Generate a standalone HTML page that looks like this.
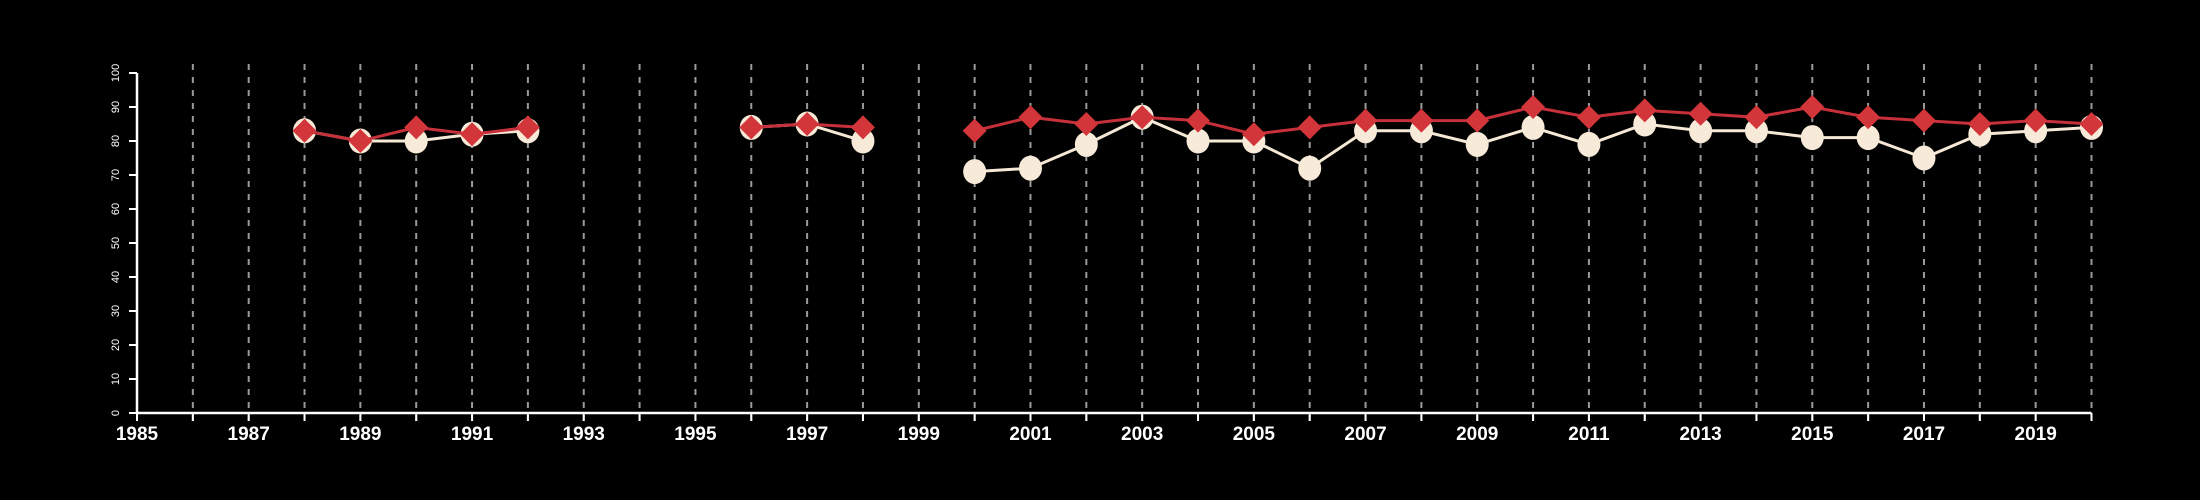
<!DOCTYPE html>
<html><head><meta charset="utf-8"><style>
html,body{margin:0;padding:0;background:#000;}
svg{display:block;font-family:"Liberation Sans",sans-serif;}
</style></head><body>
<svg id="chart" width="2200" height="500" viewBox="0 0 2200 500" xmlns="http://www.w3.org/2000/svg">
<rect width="2200" height="500" fill="#000"/>
<g id="grid"></g>
<g id="axes"></g>
<g id="series"></g>
</svg>
<script>
const years = [1988,1989,1990,1991,1992,1996,1997,1998,2000,2001,2002,2003,2004,2005,2006,2007,2008,2009,2010,2011,2012,2013,2014,2015,2016,2017,2018,2019,2020];
const seriesCircle = [83,80,80,82,83,84,85,80,71,72,79,87,80,80,72,83,83,79,84,79,85,83,83,81,81,75,82,83,84];
const seriesDiamond = [83,80,84,82,84,84,85,84,83,87,85,87,86,82,84,86,86,86,90,87,89,88,87,90,87,86,85,86,85];
const yTicks = [0,10,20,30,40,50,60,70,80,90,100];
const xLabels = [1985,1987,1989,1991,1993,1995,1997,1999,2001,2003,2005,2007,2009,2011,2013,2015,2017,2019];

const NS = "http://www.w3.org/2000/svg";
const X0 = 137, X1 = 2091.5, Y0 = 413, Y100 = 73;
function xs(v){ return X0 + (v - 1985) * (X1 - X0) / 35; }
function ys(v){ return Y0 - v * (Y0 - Y100) / 100; }
function mk(tag, attrs, parent){ const e = document.createElementNS(NS, tag); for (const k in attrs) e.setAttribute(k, attrs[k]); parent.appendChild(e); return e; }

const grid = document.getElementById('grid');
const axes = document.getElementById('axes');
const ser = document.getElementById('series');

for (let yr = 1986; yr <= 2020; yr++) {
  const g = mk('line', {x1: xs(yr), x2: xs(yr), y1: 64, y2: 422, stroke: '#9a9a9a', 'stroke-width': 2, 'stroke-dasharray': '6,7'}, grid);
  
  
}
// axes
const xa = mk('line', {x1: xs(1985), x2: xs(2020), y1: Y0, y2: Y0, stroke: '#fff', 'stroke-width': 2.5}, axes);


const ya = mk('line', {x1: X0, x2: X0, y1: ys(0), y2: ys(100), stroke: '#fff', 'stroke-width': 2.5}, axes);


for (let yr = 1985; yr <= 2020; yr++) {
  const t = mk('line', {x1: xs(yr), x2: xs(yr), y1: Y0, y2: Y0 + 8, stroke: '#fff', 'stroke-width': 2}, axes);
  
  
}
xLabels.forEach(v => {
  const t = mk('text', {x: xs(v), y: 440, fill: '#fff', 'font-size': 19, 'font-weight': 'bold', 'text-anchor': 'middle'}, axes);
  t.textContent = v;
  
  
});
yTicks.forEach(v => {
  const t = mk('line', {x1: X0 - 8, x2: X0, y1: ys(v), y2: ys(v), stroke: '#fff', 'stroke-width': 2}, axes);
  
  
  const l = mk('text', {x: 0, y: 0, fill: '#fff', 'font-size': 11, 'text-anchor': 'middle', transform: 'translate(119,' + ys(v) + ') rotate(-90)'}, axes);
  l.textContent = v;
  
  
});

function segments(vals){
  const segs = []; let cur = [];
  for (let i = 0; i < years.length; i++) {
    if (i > 0 && years[i] - years[i-1] > 1) { segs.push(cur); cur = []; }
    cur.push([xs(years[i]), ys(vals[i])]);
  }
  segs.push(cur);
  return segs;
}
function drawLine(vals, color, name){
  segments(vals).forEach(s => {
    const p = mk('polyline', {points: s.map(q => q.join(',')).join(' '), fill: 'none', stroke: color, 'stroke-width': 3}, ser);
    
    
  });
}
drawLine(seriesCircle, '#f5e8d5', 'line-circle-series');
years.forEach((yr, i) => {
  const c = mk('ellipse', {cx: xs(yr), cy: ys(seriesCircle[i]), rx: 11.5, ry: 12.5, fill: '#f8ead8'}, ser);
  
  
});
drawLine(seriesDiamond, '#c6303a', 'line-diamond-series');
years.forEach((yr, i) => {
  const x = xs(yr), y = ys(seriesDiamond[i]);
  const d = mk('polygon', {points: `${x},${y-12} ${x+12},${y} ${x},${y+12} ${x-12},${y}`, fill: '#d3363a'}, ser);
  
  
});
</script>
</body></html>
